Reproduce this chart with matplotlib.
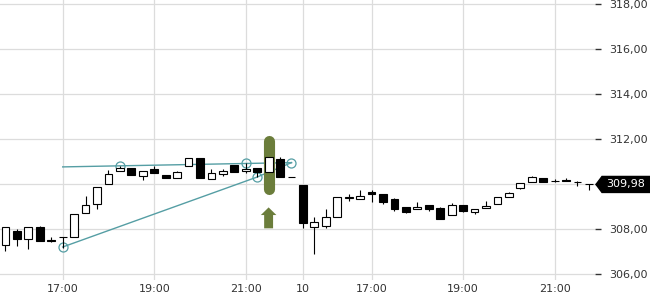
import numpy as np
import matplotlib.pyplot as plt
from matplotlib.patches import Polygon
import matplotlib.transforms as mtransforms

# 15-min candles, two sessions, x = candle index
opens = [307.29, 307.92, 307.54, 308.08, 307.50, 307.63, 307.64, 308.70, 309.11, 309.99,
         310.59, 310.70, 310.36, 310.65, 310.42, 310.25, 310.80, 311.14, 310.22, 310.46,
         310.84, 310.60, 310.70, 310.55, 311.10, 310.30,
         309.96, 308.08, 308.15, 308.52, 309.40, 309.32, 309.63, 309.54, 309.32, 308.96,
         308.88, 309.07, 308.92, 308.62, 309.07, 308.74, 308.92, 309.11, 309.41, 309.81,
         310.08, 310.25, 310.15, 310.18, 310.07, 309.98]
highs = [308.10, 307.99, 308.10, 308.13, 307.64, 307.64, 308.65, 309.47, 309.85, 310.62,
         310.80, 310.70, 310.56, 310.81, 310.42, 310.59, 311.14, 311.14, 310.65, 310.65,
         310.84, 310.92, 310.70, 311.19, 311.21, 310.30,
         309.96, 308.52, 308.89, 309.41, 309.54, 309.73, 309.73, 309.54, 309.36, 308.96,
         309.19, 309.07, 308.96, 309.14, 309.07, 308.88, 309.24, 309.44, 309.66, 310.03,
         310.36, 310.25, 310.22, 310.25, 310.14, 309.98]
lows = [307.02, 307.23, 307.12, 307.48, 307.42, 307.15, 307.64, 308.70, 308.89, 309.99,
        310.59, 310.38, 310.16, 310.49, 310.25, 310.25, 310.80, 310.25, 310.22, 310.36,
        310.55, 310.48, 310.31, 310.55, 310.30, 310.30,
        308.03, 306.89, 308.03, 308.52, 309.26, 309.32, 309.21, 309.11, 308.81, 308.70,
        308.88, 308.81, 308.44, 308.62, 308.74, 308.65, 308.92, 309.11, 309.41, 309.78,
        310.08, 310.08, 310.08, 310.13, 309.92, 309.73]
closes = [308.10, 307.54, 308.10, 307.48, 307.48, 307.64, 308.65, 309.05, 309.85, 310.43,
          310.71, 310.38, 310.56, 310.49, 310.25, 310.52, 311.14, 310.25, 310.50, 310.58,
          310.55, 310.65, 310.55, 311.19, 310.30, 310.30,
          308.25, 308.33, 308.52, 309.41, 309.41, 309.48, 309.56, 309.19, 308.89, 308.77,
          308.98, 308.89, 308.44, 309.07, 308.81, 308.88, 309.04, 309.44, 309.59, 310.03,
          310.30, 310.08, 310.15, 310.13, 310.07, 309.98]

tick_pos = [5, 13, 21, 26, 32, 40, 48]
tick_lbl = ['17:00', '19:00', '21:00', '10', '17:00', '19:00', '21:00']
price_ticks = [306, 308, 310, 312, 314, 316, 318]
last_price = 309.98

# pattern drawn on the chart (index, price)
pat_pts_x = [5, 10, 21, 22, 25]
pat_pts_y = [307.20, 310.80, 310.92, 310.31, 310.95]
top_line_x = [5, 25]
top_line_y = [310.76, 310.95]
bot_line_x = [5, 22, 25]
bot_line_y = [307.20, 310.31, 310.95]
signal_idx = 23
signal_top, signal_bot = 311.93, 309.76
arrow_top, arrow_neck, arrow_bot = 308.96, 308.62, 308.03

teal = '#559ea4'
olive = '#6b7d3b'

o = np.array(opens)
c = np.array(closes)
idx = np.arange(len(o))
up = c >= o

fig = plt.figure(figsize=(6.5, 3.0), dpi=100)
ax = fig.add_axes([0, 20 / 300, 595 / 650, 280 / 300])

ax.plot(top_line_x, top_line_y, color=teal, lw=1, zorder=2)
ax.plot(bot_line_x, bot_line_y, color=teal, lw=1, zorder=2)
ax.plot(pat_pts_x, pat_pts_y, 'o', ms=6.5, mfc='none', mec=teal, mew=0.9, zorder=2)

# highlight + arrow under the signal candle
ax.plot([signal_idx, signal_idx], [signal_bot, signal_top], color=olive, lw=8,
        solid_capstyle='round', zorder=3)
hw, sw = 0.68, 0.39
arrow = Polygon([(signal_idx, arrow_top), (signal_idx + hw, arrow_neck), (signal_idx + sw, arrow_neck),
                 (signal_idx + sw, arrow_bot), (signal_idx - sw, arrow_bot), (signal_idx - sw, arrow_neck),
                 (signal_idx - hw, arrow_neck)], closed=True, color=olive, lw=0, zorder=3)
ax.add_patch(arrow)

ax.vlines(idx, lows, highs, color='black', lw=0.8, zorder=4)
ax.bar(idx, np.abs(c - o), bottom=np.minimum(o, c), width=0.68,
       color=np.where(up, 'white', 'black'), edgecolor='black', linewidth=0.8, zorder=5)

ax.set_xlim(-0.48, 51.53)
ax.set_ylim(318 - 276 / 22.5, 318 + 4 / 22.5)

ax.set_xticks(tick_pos)
ax.set_xticklabels(tick_lbl)
ax.set_yticks(price_ticks)
ax.set_yticklabels(['' if p == 310 else f'{p:.2f}'.replace('.', ',') for p in price_ticks])
ax.yaxis.tick_right()
ax.tick_params(axis='y', length=4, width=1, color='#333333', pad=6, labelsize=8, labelcolor='#333333')
ax.tick_params(axis='x', length=0, pad=3, labelsize=8, labelcolor='#333333')
for s in ax.spines.values():
    s.set_visible(False)
ax.grid(color='#dcdcdc', lw=0.9)
ax.set_axisbelow(True)

# last price badge on the right axis
trans = mtransforms.blended_transform_factory(ax.transAxes, ax.transData)
h = 8 / 22.5
x0 = 1.0 + 1 / 595
x1 = 1.0 + 7 / 595
x2 = 650 / 595
badge = Polygon([(x0, last_price), (x1, last_price + h), (x2, last_price + h),
                 (x2, last_price - h), (x1, last_price - h)], closed=True,
                transform=trans, color='black', clip_on=False, zorder=6)
ax.add_patch(badge)
ax.text(1.0 + 11 / 595, last_price, f'{last_price:.2f}'.replace('.', ','), transform=trans,
        color='white', fontsize=8, va='center', ha='left', zorder=7, clip_on=False)

fig.savefig('out.png', dpi=100)
